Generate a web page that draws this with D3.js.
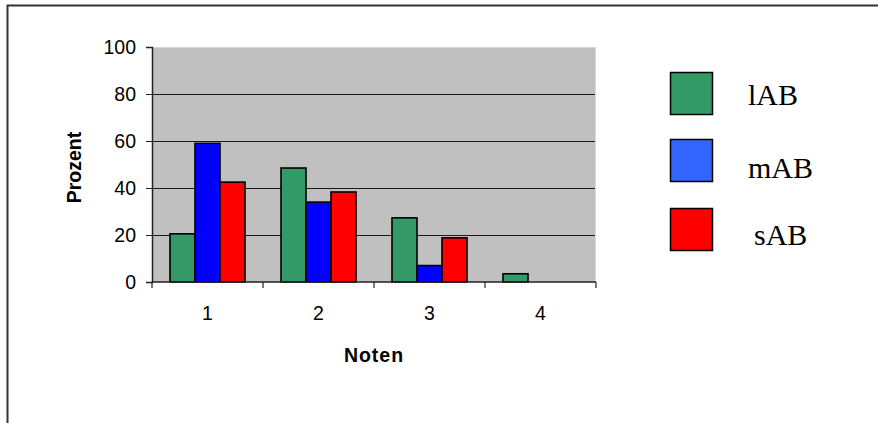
<!DOCTYPE html>
<html>
<head>
<meta charset="utf-8">
<script src="https://cdn.jsdelivr.net/npm/d3@7/dist/d3.min.js"></script>
<style>
  html, body { margin: 0; padding: 0; background: #fff; }
  svg { display: block; }
</style>
</head>
<body>
<svg id="chart" width="878" height="423"></svg>
<script>
// Grades on the x axis, share of each group in percent
const categories = ["1", "2", "3", "4"];
const seriesNames = ["lAB", "mAB", "sAB"];
const lAB = [20.5, 48.5, 27.3, 3.5];
const mAB = [59, 34, 7, 0];
const sAB = [42.5, 38.3, 18.8, 0];
const yTicks = [0, 20, 40, 60, 80, 100];

const barColors = ["#339966", "#0000FF", "#FF0000"];
const legendColors = ["#339966", "#3366FF", "#FF0000"];

const seriesValues = [lAB, mAB, sAB];

const svg = d3.select("#chart");

// outer frame (top and left edges)
svg.append("path")
  .attr("d", "M7.5,423 V5.5 H878")
  .attr("fill", "none")
  .attr("stroke", "#333")
  .attr("stroke-width", 2);

const plot = { left: 152, right: 596, top: 47, bottom: 282 };

const x = d3.scaleBand()
  .domain(categories)
  .range([plot.left, plot.right])
  .paddingInner(0)
  .paddingOuter(0);

const xInner = d3.scaleBand()
  .domain(seriesNames)
  .range([0, x.bandwidth()])
  .paddingInner(0)
  .paddingOuter(0.72);

const y = d3.scaleLinear()
  .domain([0, 100])
  .range([plot.bottom, plot.top]);

// plot background
svg.append("rect")
  .attr("x", plot.left)
  .attr("y", plot.top)
  .attr("width", plot.right - plot.left)
  .attr("height", plot.bottom - plot.top)
  .attr("fill", "#C0C0C0");

// light outline of the plot area on top and right
svg.append("path")
  .attr("d", `M${plot.left},${plot.top + 0.5} H${plot.right - 0.5} V${plot.bottom}`)
  .attr("fill", "none")
  .attr("stroke", "#d8d8d8")
  .attr("stroke-width", 1);

// horizontal gridlines
svg.append("g")
  .selectAll("line")
  .data(yTicks.filter(t => t > 0 && t < 100))
  .join("line")
  .attr("x1", plot.left)
  .attr("x2", plot.right - 1)
  .attr("y1", d => Math.round(y(d)) + 0.5)
  .attr("y2", d => Math.round(y(d)) + 0.5)
  .attr("stroke", "#1a1a1a")
  .attr("stroke-width", 1);

// bars
const groups = svg.append("g")
  .selectAll("g")
  .data(categories)
  .join("g")
  .attr("transform", d => `translate(${x(d)},0)`);

groups.selectAll("rect")
  .data((c, i) => seriesNames.map((s, j) => ({ s, j, v: seriesValues[j][i] })).filter(d => d.v > 0))
  .join("rect")
  .attr("x", d => xInner(d.s))
  .attr("y", d => y(d.v))
  .attr("width", xInner.bandwidth())
  .attr("height", d => y(0) - y(d.v))
  .attr("fill", d => barColors[d.j])
  .attr("stroke", "#000")
  .attr("stroke-width", 1.6);

const sansFont = "'Liberation Sans', Arial, sans-serif";

// y axis
const yAxis = svg.append("g")
  .attr("transform", `translate(${plot.left},0)`)
  .call(d3.axisLeft(y).tickValues(yTicks).tickSize(6).tickPadding(10));
yAxis.select(".domain").attr("stroke", "#222").attr("stroke-width", 1.5);
yAxis.selectAll(".tick line").attr("stroke", "#222");
yAxis.selectAll("text")
  .attr("font-family", sansFont)
  .attr("font-size", 19.5)
  .attr("fill", "#000");

// x axis with ticks at band boundaries
const xAxisG = svg.append("g")
  .attr("transform", `translate(0,${plot.bottom})`);
xAxisG.append("line")
  .attr("x1", plot.left).attr("x2", plot.right)
  .attr("y1", 0).attr("y2", 0)
  .attr("stroke", "#222").attr("stroke-width", 1.5);
const boundaries = categories.map(c => x(c)).concat([x(categories[categories.length - 1]) + x.bandwidth()]);
xAxisG.selectAll("line.tick")
  .data(boundaries)
  .join("line")
  .attr("class", "tick")
  .attr("x1", d => d).attr("x2", d => d)
  .attr("y1", 0).attr("y2", 6)
  .attr("stroke", "#222").attr("stroke-width", 1.2);
xAxisG.selectAll("text")
  .data(categories)
  .join("text")
  .attr("x", d => x(d) + x.bandwidth() / 2)
  .attr("y", 38)
  .attr("text-anchor", "middle")
  .attr("font-family", sansFont)
  .attr("font-size", 19.5)
  .attr("fill", "#000")
  .text(d => d);

// axis titles
svg.append("text")
  .attr("x", (plot.left + plot.right) / 2)
  .attr("y", 362)
  .attr("text-anchor", "middle")
  .attr("font-family", sansFont)
  .attr("font-weight", "bold")
  .attr("font-size", 19.5)
  .attr("letter-spacing", 1)
  .text("Noten");

svg.append("text")
  .attr("transform", `translate(81,${(plot.top + plot.bottom) / 2 + 3}) rotate(-90)`)
  .attr("text-anchor", "middle")
  .attr("font-family", sansFont)
  .attr("font-weight", "bold")
  .attr("font-size", 19.5)
  .text("Prozent");

// legend
const legendRows = [
  { y: 72, textX: 748, baseline: 105 },
  { y: 139, textX: 748, baseline: 178 },
  { y: 208, textX: 754, baseline: 245 }
];
const legend = svg.append("g");
seriesNames.forEach((name, i) => {
  legend.append("rect")
    .attr("x", 670.5)
    .attr("y", legendRows[i].y + 0.5)
    .attr("width", 42)
    .attr("height", 42)
    .attr("fill", legendColors[i])
    .attr("stroke", "#000")
    .attr("stroke-width", 1.5);
  legend.append("text")
    .attr("x", legendRows[i].textX)
    .attr("y", legendRows[i].baseline)
    .attr("font-family", "'Liberation Serif', 'Times New Roman', serif")
    .attr("font-size", 30)
    .attr("fill", "#000")
    .text(name);
});
</script>
</body>
</html>
